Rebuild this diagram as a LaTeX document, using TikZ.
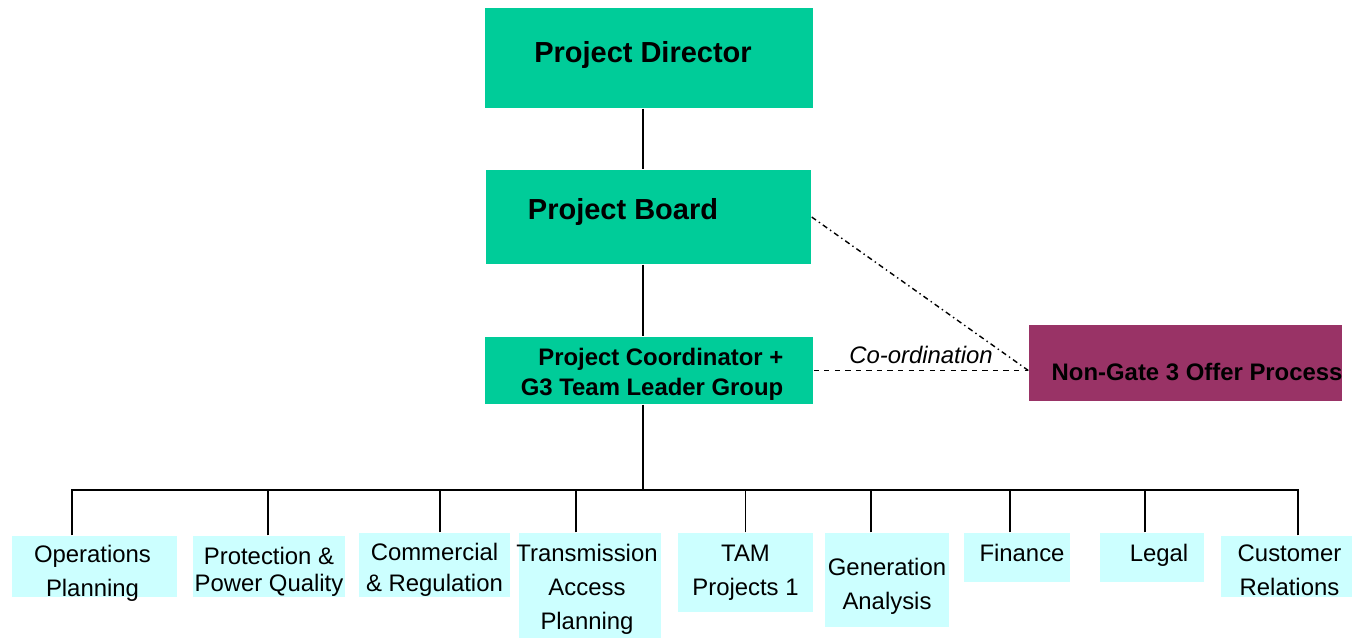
\documentclass[tikz,border=0pt]{standalone}
\usepackage{fontspec}
\setmainfont{Liberation Sans}
\usetikzlibrary{positioning,calc}
\definecolor{boardgreen}{RGB}{0,204,153}
\definecolor{offermaroon}{RGB}{153,51,102}
\definecolor{teamcyan}{RGB}{204,255,255}
\tikzset{
  greenbox/.style={fill=boardgreen, inner sep=0pt},
  offerbox/.style={fill=offermaroon, inner sep=0pt},
  teambox/.style={fill=teamcyan, inner sep=0pt},
  teamtext/.style={inner sep=0pt, align=center, font=\fontsize{13.6}{19.4}\selectfont},
  bigtext/.style={inner sep=0pt, font=\fontsize{16.5}{20}\selectfont\bfseries},
  midtext/.style={inner sep=0pt, font=\fontsize{13.6}{17}\selectfont\bfseries},
}

\begin{document}
\begin{tikzpicture}[x=0.02cm, y=-0.02cm, line width=0.8pt]
        \useasboundingbox (0,0) rectangle (1352,639);

        % Project Director (top)
        \node[greenbox, minimum width=6.56cm, minimum height=2cm] (pd) at (649,58) {};
        \node[bigtext, anchor=base] (pdtext) at (643,62) {Project Director};

        % Project Board
        \node[greenbox, minimum width=6.5cm, minimum height=1.88cm] (pb) at (648.5,217) {};
        \node[bigtext, anchor=base] (pbtext) at (623,219) {Project Board};

        % Project Coordinator + G3 Team Leader Group
        \node[greenbox, minimum width=6.56cm, minimum height=1.34cm] (pc) at (649,370.5) {};
        \node[midtext, align=right, anchor=east] (pctext) at (784,374)
            {Project Coordinator +\\G3 Team Leader Group};

        % Non-Gate 3 Offer Process (right)
        \node[offerbox, minimum width=6.26cm, minimum height=1.52cm] (ng) at (1185.5,363) {};
        \node[midtext, anchor=base west] (ngtext) at (1051,380) {Non-Gate 3 Offer Process};

        % teams (bottom row)
        \node[teambox, minimum width=3.3cm, minimum height=1.22cm] (ops) at (94.5,566.5) {};
        \node[teamtext] (opstext) at ($(ops)+(-2,6.5)$) {Operations\\Planning};

        \node[teambox, minimum width=3.04cm, minimum height=1.22cm] (prot) at (269,566.5) {};
        \node[teamtext, font=\fontsize{13.6}{15.5}\selectfont] (prottext) at ($(prot)+(0,5)$)
            {Protection \&\\Power Quality};

        \node[teambox, minimum width=3.02cm, minimum height=1.28cm] (comm) at (434.5,565) {};
        \node[teamtext, font=\fontsize{13.6}{17.5}\selectfont] (commtext) at ($(comm)+(0,5)$)
            {Commercial\\\& Regulation};

        \node[teambox, minimum width=2.84cm, minimum height=2.1cm] (trans) at (590,585.5) {};
        \node[teamtext] (transtext) at ($(trans)+(-3,4)$) {Transmission\\Access\\Planning};

        \node[teambox, minimum width=2.7cm, minimum height=1.58cm] (tam) at (745.5,572.5) {};
        \node[teamtext] (tamtext) at (tam) {TAM\\Projects 1};

        \node[teambox, minimum width=2.48cm, minimum height=1.88cm] (gen) at (887,580) {};
        \node[teamtext] (gentext) at ($(gen)+(0,6)$) {Generation\\Analysis};

        \node[teambox, minimum width=2.12cm, minimum height=0.98cm] (fin) at (1017,557.5) {};
        \node[teamtext] (fintext) at ($(fin)+(5,-5)$) {Finance};

        \node[teambox, minimum width=2.08cm, minimum height=0.98cm] (legal) at (1152,557.5) {};
        \node[teamtext] (legaltext) at ($(legal)+(7,-2)$) {Legal};

        \node[teambox, minimum width=2.62cm, minimum height=1.22cm] (cust) at (1286.5,566.5) {};
        \node[teamtext] (custtext) at ($(cust)+(3,3.5)$) {Customer\\Relations};

        % spine
        \coordinate (spine) at (643,490);
        \draw (spine |- pd.south) -- (spine |- pb.north);
        \draw (spine |- pb.south) -- (spine |- pc.north);
        \draw (spine |- pc.south) -- (spine);

        % branches to the teams
        \foreach \team/\dx in {ops/-0.45, prot/-0.02, comm/0.11, trans/-0.28, tam/0,
                              gen/-0.32, fin/-0.14, legal/-0.14, cust/0.23}
            \draw ([xshift=\dx cm]\team.north) |- (spine);

        % co-ordination with the offer process
        \coordinate (meet) at (pc.east -| ng.west);
        \draw[dashed] (pc.east) -- (meet)
            node[midway, above, font=\fontsize{13.6}{15}\selectfont\itshape] (coord) {Co-ordination};
        \draw[dash dot] (pb.east) -- (meet);

    \end{tikzpicture}
\end{document}
